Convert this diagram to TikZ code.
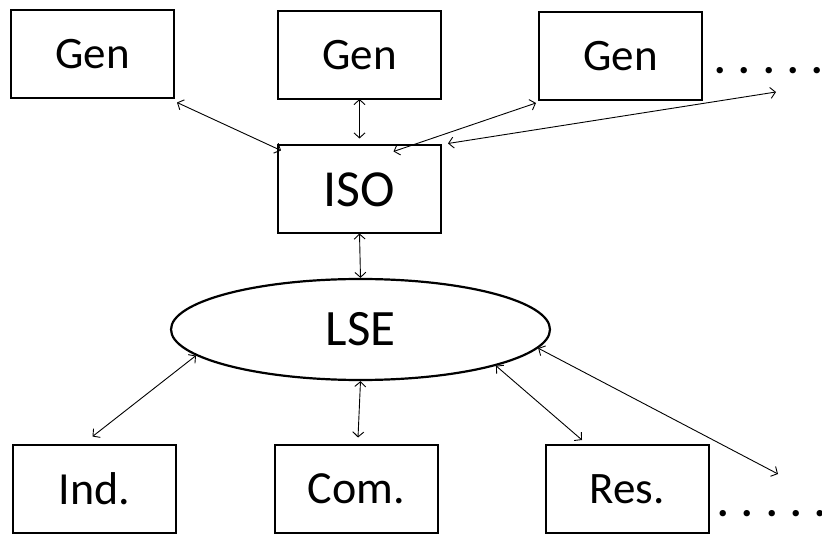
\documentclass[tikz,border=0pt]{standalone}
\usepackage{fontspec}
\setmainfont{Carlito}
\usetikzlibrary{arrows.meta,shapes.geometric}
\begin{document}
\begin{tikzpicture}[x=1pt,y=-1pt,
  box/.style={draw,line width=2pt,minimum width=163pt,minimum height=88pt,inner sep=0pt},
  link/.style={line width=0.9pt,{Straight Barb[length=5pt,width=11pt]}-{Straight Barb[length=5pt,width=11pt]}},
  dotrow/.style={inner sep=0pt,anchor=base west,font=\fontsize{43}{50}\selectfont\bfseries}]
\useasboundingbox (0,0) rectangle (822,534);
% top row
\node[box,font=\fontsize{45}{52}\selectfont] (gen1) at (92.5,54.5) {Gen};
\node[box,font=\fontsize{45}{52}\selectfont] (gen2) at (359.5,55) {Gen};
\node[box,font=\fontsize{45}{52}\selectfont] (gen3) at (620.5,56) {Gen};
\node[dotrow] (dtop) at (714,74) {. . . . . .};
% ISO
\node[box,font=\fontsize{52}{60}\selectfont] (iso) at (359.5,189.5) {ISO};
% LSE
\node[draw,line width=2.2pt,ellipse,minimum width=379pt,minimum height=101pt,inner sep=0pt,font=\fontsize{51}{60}\selectfont] (lse) at (360.5,329.5) {LSE};
% bottom row
\node[box,font=\fontsize{46}{54}\selectfont] (ind) at (94.5,488.5) {Ind.};
\node[box,font=\fontsize{46}{54}\selectfont] (com) at (356.5,488.5) {Com.};
\node[box,font=\fontsize{45}{54}\selectfont] (res) at (627,489) {Res.};
\node[dotrow] (dbot) at (717,516) {. . . . .};
% free ends
\coordinate (topend) at (776,92);
\coordinate (botend) at (778,474);
% connectors
\draw[link] ([shift={(2,3)}]gen1.south east) -- ([shift={(4,6)}]iso.north west);
\draw[link] ([yshift=1pt]gen2.south) -- ([yshift=6pt]iso.north);
\draw[link] ([shift={(34,7)}]iso.north) -- ([shift={(-2,2)}]gen3.south west);
\draw[link] ([shift={(6,-1)}]iso.north east) -- (topend);
\draw[link] ([yshift=1pt]iso.south) -- (lse.north);
\draw[link] (lse.189) -- ([shift={(-2,-7)}]ind.north);
\draw[link] (lse.south) -- ([shift={(1.5,-6)}]com.north);
\draw[link] (lse.345) -- ([shift={(-45,-4)}]res.north);
\draw[link] (lse.354) -- (botend);
\end{tikzpicture}
\end{document}
